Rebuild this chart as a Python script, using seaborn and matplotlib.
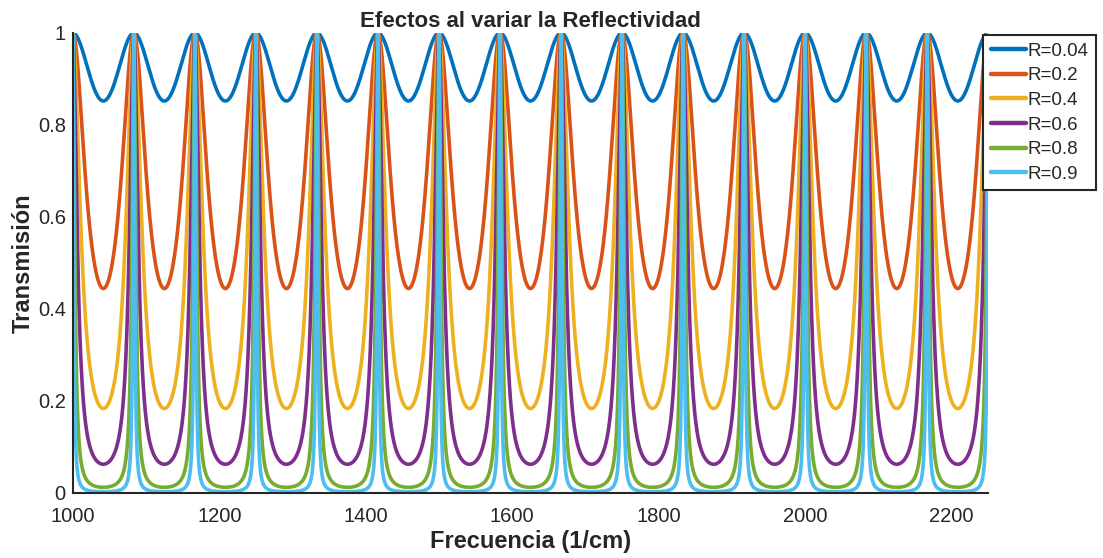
import numpy as np
import pandas as pd
import matplotlib
matplotlib.use("Agg")
import matplotlib.pyplot as plt
import seaborn as sns
from matplotlib.lines import Line2D

# Data
reflectivities = [0.04, 0.2, 0.4, 0.6, 0.8, 0.9]
labels = ["R=0.04", "R=0.2", "R=0.4", "R=0.6", "R=0.8", "R=0.9"]
colors = ["#0072BD", "#D95319", "#EDB120", "#7E2F8E", "#77AC30", "#4DBEEE"]
freq_start, freq_end = 1000.0, 2250.0
free_spectral_range = 1250.0 / 15  # peaks every ~83.3 1/cm, first at 1000
x_ticks = [1000, 1200, 1400, 1600, 1800, 2000, 2200]
y_ticks = [0, 0.2, 0.4, 0.6, 0.8, 1]
y_tick_labels = ["0", "0.2", "0.4", "0.6", "0.8", "1"]

freq = np.linspace(freq_start, freq_end, 7501)
frames = []
for R, lab in zip(reflectivities, labels):
    F = 4 * R / (1 - R) ** 2
    phase = np.pi * (freq - freq_start) / free_spectral_range
    T = 1.0 / (1.0 + F * np.sin(phase) ** 2)
    frames.append(pd.DataFrame({"Frecuencia": freq, "T": T, "serie": lab}))
df = pd.concat(frames, ignore_index=True)

sns.set_style("white")
plt.rcParams["font.family"] = ["Liberation Sans", "DejaVu Sans"]

fig = plt.figure(figsize=(11.03, 5.58), dpi=100)
ax = fig.add_axes([0.066, 0.1165, 0.830, 0.8245])
sns.lineplot(data=df, x="Frecuencia", y="T", hue="serie", hue_order=labels,
             palette=colors, linewidth=2.6, ax=ax, legend=False, estimator=None,
             sort=False)

ax.set_xlim(freq_start, freq_end)
ax.set_ylim(0, 1)
ax.set_xticks(x_ticks)
ax.set_yticks(y_ticks)
ax.set_yticklabels(y_tick_labels)
ax.tick_params(direction="in", length=5, width=1, labelsize=14.5, colors="#262626")
ax.tick_params(axis="x", pad=10)
ax.tick_params(axis="y", pad=5)
for s in ["top", "right"]:
    ax.spines[s].set_visible(False)
for s in ["left", "bottom"]:
    ax.spines[s].set_color("#262626")
    ax.spines[s].set_linewidth(1.5)

ax.set_title("Efectos al variar la Reflectividad", fontsize=16, fontweight="bold",
             pad=4)
ax.set_xlabel("Frecuencia (1/cm)", fontsize=17, fontweight="bold", color="#262626",
              labelpad=3)
ax.set_ylabel("Transmisión", fontsize=17, fontweight="bold", color="#262626",
              labelpad=2)

handles = [Line2D([0], [0], color=c, lw=3.2) for c in colors]
leg = fig.legend(handles, labels, loc="upper left", bbox_to_anchor=(0.8915, 0.937),
                 fontsize=13.5, frameon=True, fancybox=False, framealpha=1,
                 edgecolor="#262626", handlelength=1.85, handletextpad=0.1,
                 borderpad=0.4, labelspacing=0.4, borderaxespad=0)
leg.get_frame().set_linewidth(1.5)

fig.savefig("out.png", dpi=100)
